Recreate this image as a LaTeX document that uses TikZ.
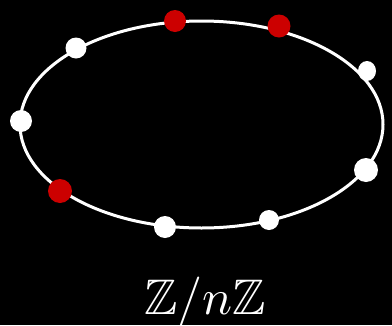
\documentclass[tikz,border=0pt]{standalone}
\usepackage{amssymb}
\usetikzlibrary{shapes.geometric}
\definecolor{dotred}{HTML}{CC0000}
\begin{document}
\begin{tikzpicture}[x=1pt,y=-1pt,
  wdot/.style={circle,fill=white,inner sep=0pt,minimum size=#1},
  rdot/.style={circle,fill=dotred,inner sep=0pt,minimum size=#1}]
\fill[black] (0,0) rectangle (392,325);
\useasboundingbox (0,0) rectangle (392,325);
\draw[white,line width=3pt] (201.5,124.5) ellipse [x radius=181.5, y radius=103.5];
\node[ellipse,fill=white,inner sep=0pt,minimum width=18pt,minimum height=20pt] (d) at (367,71) {};
\node[wdot=21pt] (a) at (76,48) {};
\node[rdot=22pt] (b) at (175,21) {};
\node[rdot=23pt] (c) at (279,26) {};
\node[wdot=22pt] (e) at (21,121) {};
\node[wdot=24pt] (f) at (366,170) {};
\node[rdot=24pt] (g) at (60,191) {};
\node[wdot=22pt] (h) at (165,227) {};
\node[wdot=20pt] (i) at (269,220) {};
\node[text=white,scale=5,inner sep=0pt] (lbl) at (205,302) {$\mathbb{Z}/n\mathbb{Z}$};
\end{tikzpicture}
\end{document}
